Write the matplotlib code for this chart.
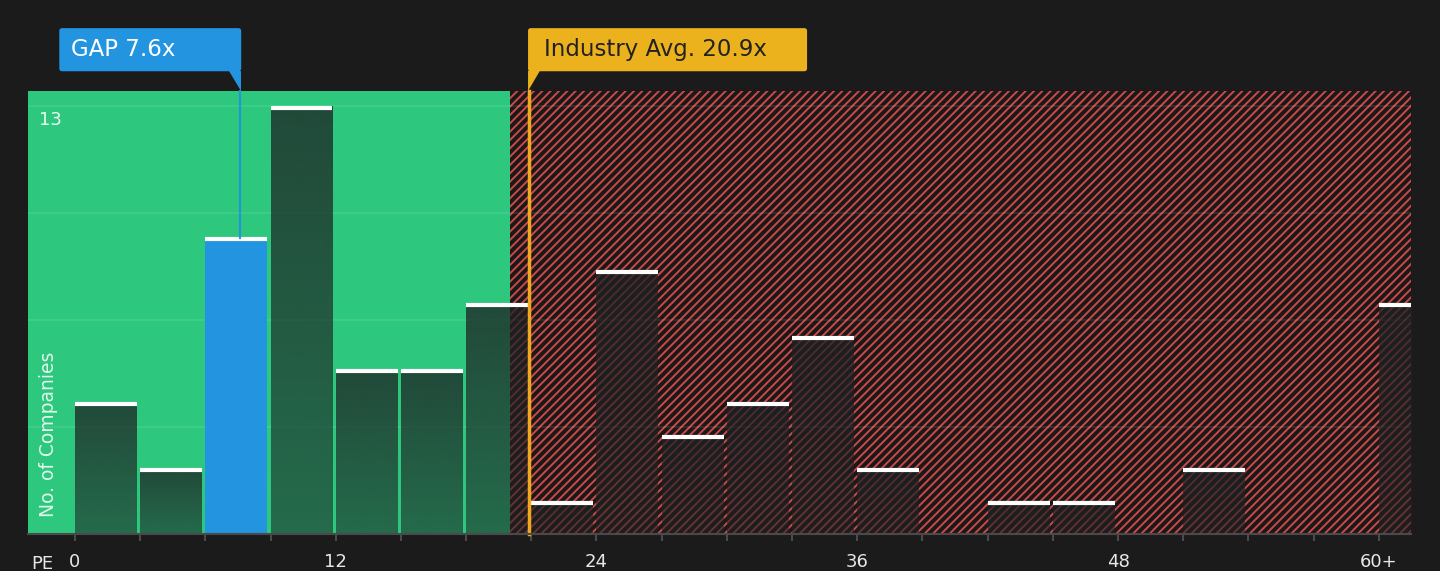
import numpy as np
import matplotlib
matplotlib.use('Agg')
import matplotlib.pyplot as plt
from matplotlib.patches import Rectangle, FancyBboxPatch, Polygon

# data
bin_starts = [0, 3, 6, 9, 12, 15, 18, 21, 24, 27, 30, 33, 36, 39, 42, 45, 48, 51, 54, 57, 60]
counts = [4, 2, 9, 13, 5, 5, 7, 1, 8, 3, 4, 6, 2, 0, 1, 1, 0, 2, 0, 0, 7]
tick_vals = [0, 12, 24, 36, 48, 60]
tick_labels = ['0', '12', '24', '36', '48', '60+']
company_pe = 7.6
company_name = 'GAP'
industry_pe = 20.9
fair_limit = 20
y_max = 13

bg = '#1b1b1b'
green = '#2dc77e'
blue = '#2394e0'
yellow = '#ecb21e'
red_hatch = '#c94a4a'

plt.rcParams['hatch.linewidth'] = 1.4
plt.rcParams['font.family'] = 'DejaVu Sans'

fig = plt.figure(figsize=(14.4, 5.71), dpi=100, facecolor=bg)
ax = fig.add_axes([28 / 1440, 1 - 534 / 571, (1411 - 28) / 1440, (534 - 91) / 571])
ax.set_facecolor(bg)
x_lo, x_hi = -2.16, 61.48
y_top = 13.46

# green (under valued) zone and hatched zone
ax.add_patch(Rectangle((x_lo, 0), fair_limit - x_lo, y_top, facecolor=green, lw=0, zorder=0))
ax.add_patch(Rectangle((fair_limit, 0), x_hi - fair_limit, y_top, facecolor='#1c1818',
                       edgecolor=red_hatch, hatch='////', lw=0, zorder=0))

# grid
for g in np.linspace(0, y_max, 5)[1:]:
    ax.axhline(g, color='white', alpha=0.1, lw=1.2, zorder=1)

# bars
bw = 2.85
for x0, c in zip(bin_starts, counts):
    if c == 0:
        continue
    if x0 <= company_pe < x0 + 3:
        ax.add_patch(Rectangle((x0, 0), bw, c, facecolor=blue, lw=0, zorder=2))
    else:
        grad = np.zeros((50, 1, 4))
        grad[..., 0] = 30 / 255
        grad[..., 1] = 33 / 255
        grad[..., 2] = 35 / 255
        grad[:, 0, 3] = np.linspace(0.76, 0.56, 50)
        ax.imshow(grad, extent=(x0, x0 + bw, 0, c), origin='upper', aspect='auto',
                  zorder=2, interpolation='bilinear')
    ax.plot([x0, x0 + bw], [c - 0.05, c - 0.05], color='white', lw=3,
            solid_capstyle='butt', zorder=3)

ax.set_xlim(x_lo, x_hi)
ax.set_ylim(0, y_top)

# industry line
ax.plot([industry_pe, industry_pe], [0, y_top], color='#f0a81e', lw=2.5, zorder=4,
        clip_on=False)
# company line
ax.plot([company_pe, company_pe], [9, y_top], color=blue, lw=1.5, zorder=4, clip_on=False)

# callout boxes
asp = (1 / 32.92) / (1 / 21.73)
b_y0, b_h = 14.06, 1.31
gap_w = 8.37
ax.add_patch(FancyBboxPatch((company_pe + 0.05 - gap_w, b_y0), gap_w, b_h,
                            boxstyle='round,pad=0,rounding_size=0.12', mutation_aspect=asp,
                            facecolor=blue, lw=0, clip_on=False, zorder=5))
ax.add_patch(Polygon([(company_pe - 0.5, b_y0 + 0.02), (company_pe + 0.05, b_y0 + 0.02),
                      (company_pe + 0.05, y_top)], closed=True, facecolor=blue, lw=0,
                     clip_on=False, zorder=5))
ax.text(company_pe + 0.05 - gap_w + 0.55, b_y0 + b_h / 2, f'{company_name} {company_pe}x',
        color='white', fontsize=16.5, va='center', ha='left', zorder=6, clip_on=False)

ind_w = 12.84
ax.add_patch(FancyBboxPatch((industry_pe - 0.05, b_y0), ind_w, b_h,
                            boxstyle='round,pad=0,rounding_size=0.12', mutation_aspect=asp,
                            facecolor=yellow, lw=0, clip_on=False, zorder=5))
ax.add_patch(Polygon([(industry_pe - 0.05, b_y0 + 0.02), (industry_pe + 0.5, b_y0 + 0.02),
                      (industry_pe - 0.05, y_top)], closed=True, facecolor=yellow, lw=0,
                     clip_on=False, zorder=5))
ax.text(industry_pe - 0.05 + 0.74, b_y0 + b_h / 2, f'Industry Avg. {industry_pe}x',
        color='#222222', fontsize=16.5, va='center', ha='left', zorder=6, clip_on=False)

# axes styling
for s in ['top', 'left', 'right']:
    ax.spines[s].set_visible(False)
ax.spines['bottom'].set_color('#4a4a4a')
ax.spines['bottom'].set_linewidth(1.5)
ax.spines['bottom'].set_zorder(5)
ax.set_yticks([])
ax.set_xticks(bin_starts, minor=True)
ax.set_xticks(tick_vals)
ax.set_xticklabels(tick_labels)
ax.tick_params(axis='x', which='both', color='#555555', length=5, width=1.2)
ax.tick_params(axis='x', which='major', labelcolor='#e8e8e8', labelsize=13, pad=9)

ax.text(-1.15, 12.58, str(y_max), color='white', alpha=0.9, fontsize=13,
        ha='center', va='center', zorder=6)
ax.text(-1.22, 3.04, 'No. of Companies', color='white', alpha=0.85, fontsize=13.5,
        rotation=90, ha='center', va='center', zorder=6)
fig.text(42 / 1440, 1 - 564 / 571, 'PE', color='#e8e8e8', fontsize=13,
         ha='center', va='center')

fig.savefig('out.png', dpi=100, facecolor=bg)
